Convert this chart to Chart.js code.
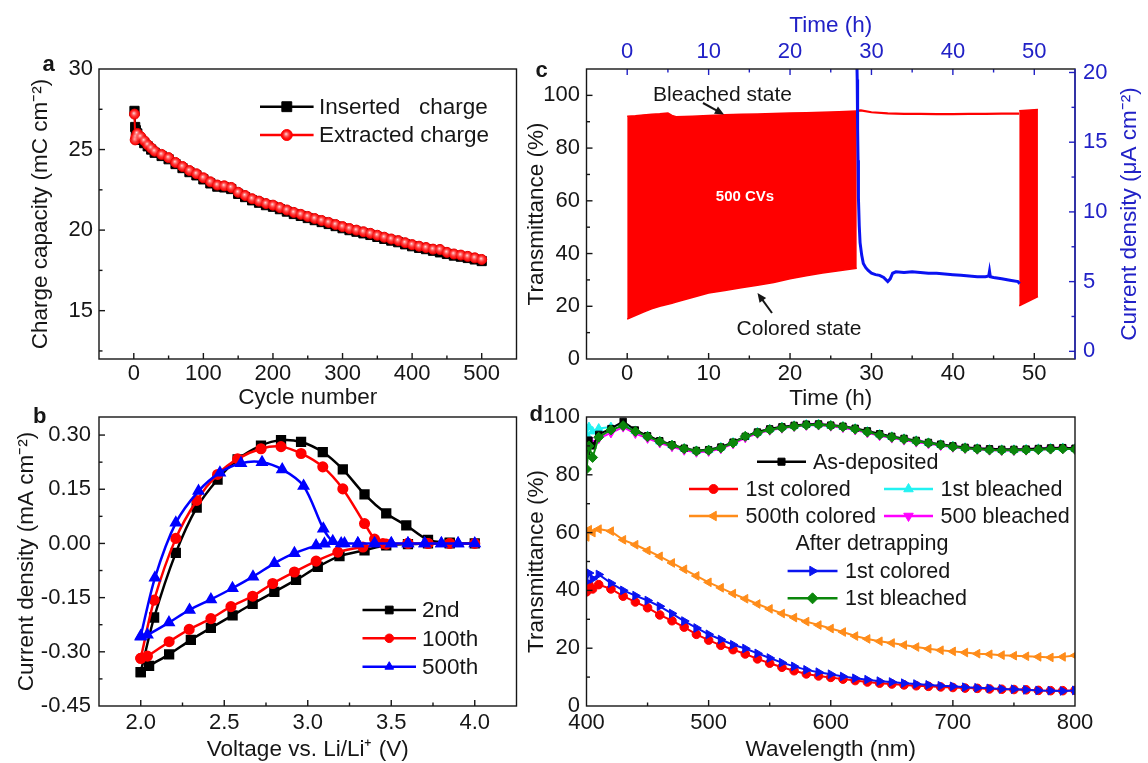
<!DOCTYPE html>
<html>
<head>
<meta charset="utf-8">
<script src="https://cdn.jsdelivr.net/npm/chart.js@4.4.1/dist/chart.umd.min.js"></script>
<style>
  html, body { margin: 0; padding: 0; background: #fff; }
  #wrap { position: relative; width: 1148px; height: 763px; overflow: hidden; }
  #wrap canvas { position: absolute; left: 0; top: 0; }
</style>
</head>
<body>
<div id="wrap">
  <canvas id="chartA" width="1148" height="763"></canvas>
  <canvas id="chartB" width="1148" height="763"></canvas>
  <canvas id="chartC" width="1148" height="763"></canvas>
  <canvas id="chartD" width="1148" height="763"></canvas>
</div>
<script>
// ---- a: charge capacity vs cycle number
const cycles = [1, 2, 3, 5, 10, 15, 20, 25, 30, 40, 50, 60, 70, 80, 90, 100, 110, 120, 130, 140, 150,
  160, 170, 180, 190, 200, 210, 220, 230, 240, 250, 260, 270, 280, 290, 300, 310, 320, 330, 340, 350,
  360, 370, 380, 390, 400, 410, 420, 430, 440, 450, 460, 470, 480, 490, 500];
const insertedCharge = [27.4, 26.4, 26.2, 26.0, 25.6, 25.4, 25.2, 25.0, 24.8,
  24.6, 24.4, 24.1, 23.85, 23.6, 23.4, 23.15, 22.9, 22.7, 22.65, 22.55, 22.25, 22.05, 21.85, 21.7, 21.55,
  21.45, 21.3, 21.15, 21.0, 20.88, 20.75, 20.62, 20.5, 20.38, 20.25, 20.12, 20.0, 19.9, 19.8, 19.7,
  19.58, 19.46, 19.35, 19.25, 19.12, 19.0, 18.9, 18.82, 18.72, 18.62, 18.52, 18.42, 18.35, 18.27, 18.18, 18.08];
const extractedCharge = [27.2, 25.6, 25.8, 26.0, 25.8, 25.55, 25.3, 25.1, 24.9,
  24.7, 24.5, 24.2, 23.95, 23.7, 23.5, 23.25, 23.0, 22.8, 22.75, 22.65, 22.35, 22.15, 21.95, 21.8, 21.65,
  21.55, 21.4, 21.25, 21.1, 20.98, 20.85, 20.72, 20.6, 20.48, 20.35, 20.22, 20.1, 20.0, 19.9, 19.8,
  19.68, 19.56, 19.45, 19.35, 19.22, 19.1, 19.0, 18.92, 18.82, 18.8, 18.62, 18.52, 18.45, 18.37, 18.28, 18.18];
const cycleTicks = [0, 100, 200, 300, 400, 500];
const capacityTicks = [15, 20, 25, 30];

// ---- b: CV loops (anodic sweep then cathodic sweep)
const cv2V = [2.0, 2.08, 2.21, 2.335, 2.46, 2.58, 2.72, 2.84, 2.96, 3.09, 3.21, 3.34, 3.47, 3.59, 3.72, 3.85, 4.0,
  3.85, 3.72, 3.6, 3.47, 3.34, 3.19, 3.06, 2.93, 2.8, 2.67, 2.55, 2.42, 2.3, 2.17, 2.05, 2.0];
const cv2I = [-0.356, -0.205, -0.026, 0.099, 0.177, 0.233, 0.271, 0.286, 0.281, 0.253, 0.205, 0.136, 0.083, 0.05, 0.01, 0.002, 0.0,
  0.0, 0.0, -0.002, -0.005, -0.019, -0.035, -0.065, -0.101, -0.134, -0.167, -0.199, -0.234, -0.267, -0.307, -0.339, -0.356];
const cv100V = [2.0, 2.08, 2.21, 2.335, 2.46, 2.58, 2.72, 2.84, 2.96, 3.09, 3.21, 3.34, 3.40, 3.45, 3.6, 3.72, 3.85, 4.0,
  3.85, 3.72, 3.6, 3.47, 3.33, 3.18, 3.05, 2.92, 2.79, 2.67, 2.54, 2.42, 2.29, 2.17, 2.04, 2.0];
const cv100I = [-0.318, -0.157, 0.014, 0.119, 0.191, 0.234, 0.262, 0.268, 0.249, 0.212, 0.151, 0.055, 0.012, 0.0, 0.0, 0.0, 0.0, 0.0,
  0.0, 0.0, 0.0, -0.002, -0.01, -0.024, -0.049, -0.079, -0.111, -0.146, -0.175, -0.208, -0.238, -0.272, -0.312, -0.318];
const cv500V = [2.0, 2.085, 2.21, 2.346, 2.474, 2.6, 2.726, 2.847, 2.975, 3.093, 3.15, 3.22, 3.3, 3.4, 3.5, 3.6, 3.7, 3.8, 3.9, 4.0,
  3.9, 3.8, 3.7, 3.6, 3.5, 3.4, 3.3, 3.2, 3.1, 3.05, 2.92, 2.8, 2.672, 2.549, 2.42, 2.292, 2.169, 2.04, 2.0];
const cv500I = [-0.256, -0.095, 0.057, 0.145, 0.196, 0.222, 0.225, 0.205, 0.159, 0.041, 0.006, 0.0, 0.0, 0.0, 0.0, 0.0, 0.0, 0.0, 0.0, 0.0,
  0.0, 0.0, 0.0, 0.0, 0.0, 0.0, 0.0, 0.0, -0.001, -0.006, -0.027, -0.055, -0.092, -0.124, -0.155, -0.184, -0.219, -0.253, -0.258];
const voltageTicks = [2.0, 2.5, 3.0, 3.5, 4.0];
const currentTicks = [-0.45, -0.30, -0.15, 0.0, 0.15, 0.30];

// ---- c: in-situ transmittance and detrapping current
const cvTime = [0, 1, 2, 3, 4, 5, 5.5, 6, 8, 10, 12, 14, 16, 18, 20, 22, 24, 26, 28.2];
const cvBleached = [92.1, 92.3, 92.6, 92.8, 93.0, 93.3, 92.4, 91.9, 92.1, 92.4, 92.6, 92.8, 92.9, 93.1, 93.3, 93.4, 93.6, 93.8, 94.1];
const cvColored = [15.1, 16.5, 17.8, 19.0, 20.0, 20.8, 21.1, 21.6, 23.3, 25.0, 26.0, 27.0, 28.0, 29.0, 30.4, 31.6, 32.6, 33.5, 34.4];
const restTime = [28.2, 28.7, 30, 32, 34, 36, 38, 40, 42, 44, 46, 48.15];
const restBleached = [94.1, 94.3, 93.6, 93.2, 93.0, 93.0, 92.9, 92.9, 93.0, 93.0, 93.1, 93.1];
const finalTime = [48.15, 50.45];
const finalBleached = [94.2, 94.6];
const finalColored = [20.2, 23.7];
const detrapTime = [28.2, 28.25, 28.3, 28.35, 28.4, 28.5, 28.6, 28.8, 29.0, 29.3, 29.6, 30.0, 30.5, 31.0, 31.5, 32.0,
  32.3, 32.6, 33, 34, 35, 36, 37, 38, 39, 40, 41, 42, 43, 44, 44.4, 44.5, 44.6, 45, 46, 47, 48.0, 48.2];
const detrapCurrent = [21, 19.5, 16, 13.7, 11, 9, 7.8, 6.9, 6.3, 6.0, 5.8, 5.6, 5.5, 5.45, 5.3, 5.0,
  5.2, 5.6, 5.7, 5.65, 5.7, 5.65, 5.6, 5.6, 5.55, 5.5, 5.45, 5.4, 5.35, 5.35, 5.4, 5.75, 5.35, 5.3, 5.2, 5.1, 5.0, 4.85];
const timeTicks = [0, 10, 20, 30, 40, 50];
const transTicksC = [0, 20, 40, 60, 80, 100];
const densityTicks = [0, 5, 10, 15, 20];

// ---- d: transmittance spectra
const wavelength = [400, 402, 405, 410, 420, 430, 440, 450, 460, 470, 480, 490, 500, 510, 520, 530, 540, 550,
  560, 570, 580, 590, 600, 610, 620, 630, 640, 650, 660, 670, 680, 690, 700, 710, 720, 730, 740, 750, 760,
  770, 780, 790, 800];
const asDeposited = [88, 92, 90, 94, 96, 98.5, 95.5, 93.5, 91.8, 90.4, 89.2, 88.4, 88.7, 89.6, 91.3, 93.3, 94.8, 95.9,
  96.6, 97.1, 97.5, 97.6, 97.2, 96.8, 96.1, 95.2, 94.2, 93.3, 92.6, 91.9, 91.2, 90.6, 90, 89.5, 89.2, 89, 88.8, 88.8, 88.9,
  89.1, 89.3, 89.4, 89.2];
const firstColored = [39.5, 42, 40.5, 42, 40.5, 38, 36, 34, 31.5, 29.5, 27.3, 24.8, 22.8, 21, 19.5, 18, 16.3, 14.8,
  13.4, 12.2, 11.1, 10.4, 9.9, 9.3, 8.8, 8.3, 7.9, 7.6, 7.3, 7, 6.8, 6.6, 6.4, 6.2, 6.1, 5.9, 5.8, 5.7, 5.6,
  5.4, 5.3, 5.3, 5.4];
const firstBleached = [94, 96.5, 95, 96, 96.5, 97.8, 95.2, 93.4, 91.6, 90.3, 89.1, 88.3, 88.6, 89.5, 91.2, 93.2, 94.7, 95.8,
  96.5, 97, 97.4, 97.5, 97.1, 96.7, 96, 95, 94, 93.2, 92.5, 91.8, 91.1, 90.5, 89.9, 89.4, 89.1, 88.8, 88.7, 88.7, 88.8,
  89, 89.2, 89.3, 89.1];
const colored500 = [58.5, 61, 60, 61.2, 60.5, 57.5, 55.8, 53.8, 51.8, 49.5, 47.3, 45, 42.8, 40.9, 38.9, 37.1, 35.3, 33.6,
  32, 30.6, 29.2, 28, 26.8, 25.6, 24.2, 23.2, 22.4, 21.8, 21.1, 20.4, 19.8, 19.3, 18.9, 18.5, 18.1, 17.9, 17.6, 17.4, 17.2,
  17, 16.8, 17, 17.5];
const bleached500 = [90, 92, 91, 92.5, 94.5, 96.5, 94.3, 92.6, 91, 89.7, 88.5, 87.8, 88.1, 89, 90.7, 92.8, 94.3, 95.4,
  96.1, 96.7, 97.1, 97.2, 96.8, 96.3, 95.5, 94.5, 93.5, 92.7, 92, 91.3, 90.7, 90.1, 89.5, 89.1, 88.8, 88.5, 88.4, 88.4, 88.5,
  88.7, 88.9, 89, 88.8];
const detrapColored = [43, 46, 44, 45.5, 42.5, 40, 38.2, 36.5, 34.5, 32, 29.4, 27, 24.8, 23, 21.2, 19.9, 18.2, 16.6,
  15, 13.7, 12.5, 11.7, 11, 10.2, 9.6, 9.1, 8.6, 8.3, 7.9, 7.6, 7.3, 7, 6.8, 6.5, 6.3, 6.1, 5.9, 5.8, 5.6,
  5.4, 5.3, 5.2, 5.4];
const detrapBleached = [82, 90, 86, 93, 95.5, 97, 95, 93.2, 91.5, 90.2, 89, 88.2, 88.5, 89.3, 91, 93.3, 94.5, 95.6,
  96.3, 96.8, 97.2, 97.3, 97, 96.6, 95.8, 94.8, 93.8, 93, 92.3, 91.6, 91, 90.3, 89.7, 89.2, 88.9, 88.6, 88.5, 88.5, 88.6,
  88.7, 88.9, 89, 88.8];
const wavelengthTicks = [400, 500, 600, 700, 800];
const transTicksD = [0, 20, 40, 60, 80, 100];

// ---------------------------------------------------------------
const ink = '#161616';
const axisBlue = '#2121c6';
const family = "'Liberation Sans', Arial, Helvetica, sans-serif";
Chart.defaults.font.family = family;
Chart.defaults.color = ink;

const xy = (xs, ys) => xs.map((x, i) => ({ x: x, y: ys[i] }));

function linAxis(o) {
  return {
    type: 'linear',
    position: o.pos,
    min: o.min,
    max: o.max,
    grid: { display: false, drawTicks: false },
    border: { display: false },
    afterBuildTicks: s => { s.ticks = o.ticks.map(v => ({ value: v })); },
    afterFit: s => { if (s.isHorizontal()) s.height = o.size; else s.width = o.size; },
    ticks: {
      autoSkip: false, maxRotation: 0, padding: o.pad,
      color: o.color || ink, font: { size: 22 },
      callback: o.fmt || (v => v)
    },
    title: {
      display: !!o.title, text: o.title || '', color: o.color || ink,
      font: { size: 22.5 }, padding: o.tpad || 0
    }
  };
}

function baseOptions(padding, scales) {
  return {
    responsive: false,
    animation: false,
    devicePixelRatio: 1,
    events: [],
    layout: { padding: padding },
    plugins: { legend: { display: false }, tooltip: { enabled: false } },
    scales: scales
  };
}

// box around the plot and inward ticks (major + minor)
function frame(sides, rightColor) {
  return {
    id: 'frame',
    afterDatasetsDraw(chart) {
      const ctx = chart.ctx, a = chart.chartArea;
      ctx.save();
      ctx.lineWidth = 1.4;
      sides.forEach(t => {
        const s = chart.scales[t.id];
        const vals = s.ticks.map(k => k.value);
        const step = vals[1] - vals[0];
        const minors = vals.map(v => v + step / 2).concat([vals[0] - step / 2]);
        ctx.strokeStyle = t.color || ink;
        const tick = (v, len) => {
          if (v <= s.min + 1e-9 || v >= s.max - 1e-9) return;
          const p = s.getPixelForValue(v);
          ctx.beginPath();
          if (t.edge === 'bottom') { ctx.moveTo(p, a.bottom); ctx.lineTo(p, a.bottom - len); }
          else if (t.edge === 'top') { ctx.moveTo(p, a.top); ctx.lineTo(p, a.top + len); }
          else if (t.edge === 'left') { ctx.moveTo(a.left, p); ctx.lineTo(a.left + len, p); }
          else { ctx.moveTo(a.right, p); ctx.lineTo(a.right - len, p); }
          ctx.stroke();
        };
        vals.forEach(v => tick(v, 6));
        minors.forEach(v => tick(v, 3.5));
      });
      ctx.strokeStyle = ink;
      ctx.strokeRect(a.left, a.top, a.right - a.left, a.bottom - a.top);
      if (rightColor) {
        ctx.strokeStyle = rightColor;
        ctx.beginPath(); ctx.moveTo(a.right, a.top); ctx.lineTo(a.right, a.bottom); ctx.stroke();
      }
      ctx.restore();
    }
  };
}

function marker(ctx, style, x, y, r, rot, color) {
  ctx.fillStyle = color;
  ctx.strokeStyle = color;
  ctx.lineWidth = 1;
  Chart.helpers.drawPoint(ctx, { pointStyle: style, rotation: rot || 0, radius: r, borderWidth: 1 }, x, y);
}

function gloss(ctx, x, y, r) {
  const g = ctx.createRadialGradient(x - r * 0.15, y - r * 0.2, 0, x, y, r);
  g.addColorStop(0, 'rgba(255,238,238,0.95)');
  g.addColorStop(0.45, 'rgba(255,130,130,0.55)');
  g.addColorStop(1, 'rgba(255,0,0,0)');
  ctx.fillStyle = g;
  ctx.beginPath(); ctx.arc(x, y, r, 0, Math.PI * 2); ctx.fill();
}

// shiny highlight on the red balls of panel a
function glossy(index, r) {
  return {
    id: 'glossy',
    afterDatasetsDraw(chart) {
      const ctx = chart.ctx, a = chart.chartArea;
      ctx.save();
      chart.getDatasetMeta(index).data.forEach(p => {
        if (p.x >= a.left && p.x <= a.right && p.y >= a.top && p.y <= a.bottom) gloss(ctx, p.x, p.y, r);
      });
      ctx.restore();
    }
  };
}

// legend keys, labels, arrows
function overlay(items) {
  return {
    id: 'overlay',
    afterDraw(chart) {
      const ctx = chart.ctx;
      items.forEach(it => {
        ctx.save();
        if (it.kind === 'text') {
          ctx.font = it.font;
          ctx.fillStyle = it.color || ink;
          ctx.textAlign = it.align || 'left';
          ctx.textBaseline = it.baseline || 'alphabetic';
          ctx.translate(it.x, it.y);
          if (it.rotate) ctx.rotate(it.rotate);
          ctx.fillText(it.text, 0, 0);
        } else if (it.kind === 'key') {
          ctx.strokeStyle = it.color;
          ctx.lineWidth = it.lw || 2.5;
          ctx.beginPath(); ctx.moveTo(it.x1, it.y); ctx.lineTo(it.x2, it.y); ctx.stroke();
          const mx = (it.x1 + it.x2) / 2;
          marker(ctx, it.style, mx, it.y, it.r, it.rot, it.color);
          if (it.glossy) gloss(ctx, mx, it.y, it.r);
          ctx.font = it.font;
          ctx.fillStyle = ink;
          ctx.textAlign = 'left';
          ctx.textBaseline = 'middle';
          ctx.fillText(it.text, it.tx, it.y + 1);
        } else if (it.kind === 'arrow') {
          const [x1, y1] = it.from, [x2, y2] = it.to;
          const ang = Math.atan2(y2 - y1, x2 - x1);
          ctx.strokeStyle = ink; ctx.fillStyle = ink; ctx.lineWidth = 2;
          ctx.beginPath(); ctx.moveTo(x1, y1);
          ctx.lineTo(x2 - 6 * Math.cos(ang), y2 - 6 * Math.sin(ang)); ctx.stroke();
          ctx.beginPath(); ctx.moveTo(x2, y2);
          ctx.lineTo(x2 - 10 * Math.cos(ang - 0.42), y2 - 10 * Math.sin(ang - 0.42));
          ctx.lineTo(x2 - 10 * Math.cos(ang + 0.42), y2 - 10 * Math.sin(ang + 0.42));
          ctx.closePath(); ctx.fill();
        }
        ctx.restore();
      });
    }
  };
}

const bold = 'bold 22px ' + family;
const legendFont = '22.5px ' + family;
const legendFontD = '21.5px ' + family;
const noteFont = '21px ' + family;

// ---------------------------- a
new Chart(document.getElementById('chartA'), {
  type: 'line',
  data: {
    datasets: [
      { data: xy(cycles, extractedCharge), borderColor: '#ff0000', borderWidth: 2, tension: 0,
        pointStyle: 'circle', pointRadius: 5, pointBackgroundColor: '#ff1212', pointBorderColor: '#e40000', pointBorderWidth: 1 },
      { data: xy(cycles, insertedCharge), borderColor: '#000', borderWidth: 2, tension: 0,
        pointStyle: 'rect', pointRadius: 6.5, pointBackgroundColor: '#000', pointBorderColor: '#000', pointBorderWidth: 1 }
    ]
  },
  options: baseOptions({ left: 0, top: 69, right: 631.5, bottom: 352 }, {
    x: linAxis({ pos: 'bottom', min: -50, max: 550, ticks: cycleTicks, size: 52, pad: 2,
      title: 'Cycle number', tpad: { top: 0, bottom: 0 } }),
    y: linAxis({ pos: 'left', min: 12, max: 30, ticks: capacityTicks, size: 99, pad: 6,
      title: 'Charge capacity (mC cm⁻²)', tpad: { top: 26.8, bottom: 0 } })
  }),
  plugins: [
    frame([{ id: 'x', edge: 'bottom' }, { id: 'y', edge: 'left' }]),
    glossy(0, 5),
    overlay([
      { kind: 'text', text: 'a', x: 42.5, y: 70.5, font: bold },
      { kind: 'key', x1: 260, x2: 313.6, y: 106.7, color: '#000', style: 'rect', r: 7, lw: 2.5,
        text: 'Inserted   charge', tx: 319, font: legendFont },
      { kind: 'key', x1: 260, x2: 313.6, y: 135, color: '#ff0000', style: 'circle', r: 5.5, lw: 2.5, glossy: true,
        text: 'Extracted charge', tx: 319, font: legendFont }
    ])
  ]
});

// ---------------------------- b
new Chart(document.getElementById('chartB'), {
  type: 'line',
  data: {
    datasets: [
      { data: xy(cv500V, cv500I), borderColor: '#0000ff', borderWidth: 2.5, tension: 0.3,
        pointStyle: 'triangle', pointRadius: 5, pointBackgroundColor: '#0000ff', pointBorderColor: '#0000ff' },
      { data: xy(cv100V, cv100I), borderColor: '#ff0000', borderWidth: 2.5, tension: 0.3,
        pointStyle: 'circle', pointRadius: 4.3, pointBackgroundColor: '#ff0000', pointBorderColor: '#ff0000' },
      { data: xy(cv2V, cv2I), borderColor: '#000', borderWidth: 2.5, tension: 0.3,
        pointStyle: 'rect', pointRadius: 5.5, pointBackgroundColor: '#000', pointBorderColor: '#000' }
    ]
  },
  options: baseOptions({ left: 0, top: 417, right: 631.5, bottom: 0 }, {
    x: linAxis({ pos: 'bottom', min: 1.75, max: 4.25, ticks: voltageTicks, size: 57, pad: 4,
      fmt: v => Number(v).toFixed(1), title: 'Voltage vs. Li/Li⁺ (V)', tpad: { top: 0, bottom: 0 } }),
    y: linAxis({ pos: 'left', min: -0.45, max: 0.35, ticks: currentTicks, size: 99, pad: 8,
      fmt: v => Number(v).toFixed(2), title: 'Current density (mA cm⁻²)', tpad: { top: 12.8, bottom: 0 } })
  }),
  plugins: [
    frame([{ id: 'x', edge: 'bottom' }, { id: 'y', edge: 'left' }]),
    overlay([
      { kind: 'text', text: 'b', x: 33, y: 423, font: bold },
      { kind: 'key', x1: 362.5, x2: 416, y: 610, color: '#000', style: 'rect', r: 5.5, text: '2nd', tx: 422, font: legendFont },
      { kind: 'key', x1: 362.5, x2: 416, y: 638.3, color: '#ff0000', style: 'circle', r: 4.3, text: '100th', tx: 422, font: legendFont },
      { kind: 'key', x1: 362.5, x2: 416, y: 666.7, color: '#0000ff', style: 'triangle', r: 5, text: '500th', tx: 422, font: legendFont }
    ])
  ]
});

// ---------------------------- c
const red = '#ff0000';
new Chart(document.getElementById('chartC'), {
  type: 'line',
  data: {
    datasets: [
      { data: xy(detrapTime, detrapCurrent), yAxisID: 'y2', borderColor: '#0a12f2', borderWidth: 3, pointRadius: 0, tension: 0 },
      { data: xy(cvTime, cvBleached), borderColor: red, borderWidth: 1.5, pointRadius: 0, tension: 0 },
      { data: xy(cvTime, cvColored), borderColor: red, borderWidth: 1.5, pointRadius: 0, tension: 0,
        fill: '-1', backgroundColor: red },
      { data: xy(restTime, restBleached), borderColor: red, borderWidth: 2.2, pointRadius: 0, tension: 0 },
      { data: xy(finalTime, finalBleached), borderColor: red, borderWidth: 1.5, pointRadius: 0, tension: 0 },
      { data: xy(finalTime, finalColored), borderColor: red, borderWidth: 1.5, pointRadius: 0, tension: 0,
        fill: '-1', backgroundColor: red }
    ]
  },
  options: baseOptions({ left: 510, top: 0, right: 0, bottom: 351 }, {
    x: linAxis({ pos: 'bottom', min: -5, max: 55, ticks: timeTicks, size: 53, pad: 2,
      title: 'Time (h)', tpad: { top: 0, bottom: 0 } }),
    x2: linAxis({ pos: 'top', min: -5, max: 55, ticks: timeTicks, size: 69, pad: 4.3, color: axisBlue,
      title: 'Time (h)', tpad: { top: 12.5, bottom: 0 } }),
    y: linAxis({ pos: 'left', min: 0, max: 110, ticks: transTicksC, size: 76.5, pad: 6.5,
      title: 'Transmittance (%)', tpad: { top: 12.8, bottom: 0 } }),
    y2: linAxis({ pos: 'right', min: -0.55, max: 20.25, ticks: densityTicks, size: 73, pad: 8, color: axisBlue })
  }),
  plugins: [
    frame([
      { id: 'x', edge: 'bottom' }, { id: 'y', edge: 'left' },
      { id: 'x2', edge: 'top', color: axisBlue }, { id: 'y2', edge: 'right', color: axisBlue }
    ], axisBlue),
    overlay([
      { kind: 'text', text: 'c', x: 535.5, y: 77, font: bold },
      { kind: 'text', text: 'Bleached state', x: 722.5, y: 101, align: 'center', font: noteFont },
      { kind: 'arrow', from: [703, 103], to: [724, 114.5] },
      { kind: 'text', text: '500 CVs', x: 745, y: 197, align: 'center', baseline: 'middle', color: '#fff',
        font: 'bold 15px ' + family },
      { kind: 'text', text: 'Colored state', x: 799, y: 335, align: 'center', font: noteFont },
      { kind: 'arrow', from: [772, 313], to: [757.5, 293] },
      { kind: 'text', text: 'Current density (μA cm⁻²)', x: 1130, y: 214, align: 'center', baseline: 'middle',
        rotate: -Math.PI / 2, color: axisBlue, font: '22.5px ' + family }
    ])
  ]
});

// ---------------------------- d
const spec = (ys, color, style, rot, r) => ({
  data: xy(wavelength, ys), borderColor: color, borderWidth: 2, tension: 0,
  pointStyle: style, rotation: rot, pointRadius: r, pointBackgroundColor: color, pointBorderColor: color, pointBorderWidth: 1
});
new Chart(document.getElementById('chartD'), {
  type: 'line',
  data: {
    datasets: [
      spec(detrapBleached, '#0b870b', 'rectRot', 0, 5),
      spec(detrapColored, '#0a14f0', 'triangle', 90, 5),
      spec(asDeposited, '#000', 'rect', 0, 4.5),
      spec(bleached500, '#ff00ff', 'triangle', 180, 5),
      spec(firstBleached, '#22f2f2', 'triangle', 0, 5),
      spec(colored500, '#ff8c1a', 'triangle', -90, 5),
      spec(firstColored, '#ff0000', 'circle', 0, 4.3)
    ]
  },
  options: baseOptions({ left: 510, top: 417, right: 73, bottom: 0 }, {
    x: linAxis({ pos: 'bottom', min: 400, max: 800, ticks: wavelengthTicks, size: 57, pad: 4,
      title: 'Wavelength (nm)', tpad: { top: 0, bottom: 0 } }),
    y: linAxis({ pos: 'left', min: 0, max: 100, ticks: transTicksD, size: 76.5, pad: 6.5,
      title: 'Transmittance (%)', tpad: { top: 12.8, bottom: 0 } })
  }),
  plugins: [
    frame([{ id: 'x', edge: 'bottom' }, { id: 'y', edge: 'left' }]),
    overlay([
      { kind: 'text', text: 'd', x: 529.5, y: 421, font: bold },
      { kind: 'key', x1: 757, x2: 806, y: 461.7, color: '#000', style: 'rect', r: 5, text: 'As-deposited', tx: 813, font: legendFontD },
      { kind: 'key', x1: 689, x2: 738, y: 489, color: '#ff0000', style: 'circle', r: 4.5, text: '1st colored', tx: 745.6, font: legendFontD },
      { kind: 'key', x1: 884, x2: 933, y: 489, color: '#22f2f2', style: 'triangle', r: 5.5, text: '1st bleached', tx: 940.6, font: legendFontD },
      { kind: 'key', x1: 689, x2: 738, y: 516, color: '#ff8c1a', style: 'triangle', rot: -90, r: 5.5, text: '500th colored', tx: 745.6, font: legendFontD },
      { kind: 'key', x1: 884, x2: 933, y: 516, color: '#ff00ff', style: 'triangle', rot: 180, r: 5.5, text: '500 bleached', tx: 940.6, font: legendFontD },
      { kind: 'text', text: 'After detrapping', x: 872, y: 544, align: 'center', baseline: 'middle', font: legendFontD },
      { kind: 'key', x1: 787.6, x2: 837.5, y: 571, color: '#0a14f0', style: 'triangle', rot: 90, r: 5.5, text: '1st colored', tx: 845, font: legendFontD },
      { kind: 'key', x1: 787.6, x2: 837.5, y: 598.3, color: '#0b870b', style: 'rectRot', r: 5.5, text: '1st bleached', tx: 845, font: legendFontD }
    ])
  ]
});
</script>
</body>
</html>
